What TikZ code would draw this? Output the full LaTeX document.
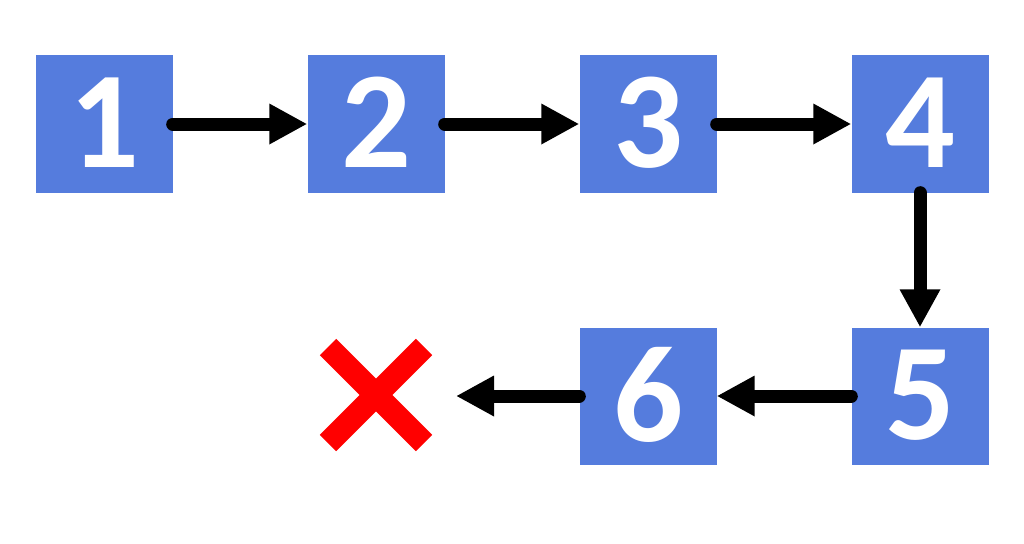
\documentclass[tikz,border=0pt]{standalone}
\usepackage{fontspec}
\setmainfont{Carlito}
\usetikzlibrary{arrows.meta,calc}
\definecolor{boxblue}{RGB}{85,124,221}
\definecolor{xred}{RGB}{255,0,0}
\begin{document}
\begin{tikzpicture}[x=1pt,y=-1pt,
  numbox/.style={fill=boxblue, draw=none, minimum width=137pt, minimum height=137pt, inner sep=0pt,
    text=white, font=\fontsize{138}{138}\selectfont\bfseries},
  conn/.style={line width=13pt, line cap=round, -{Triangle[length=38pt,width=38pt]}, black}]
\useasboundingbox (0,0) rectangle (1024,543);
\node[numbox] (n1) at (104,124) {\raisebox{3pt}{1}};
\node[numbox] (n2) at (376,124) {\raisebox{3pt}{2}};
\node[numbox] (n3) at (648,124) {\raisebox{3pt}{3}};
\node[numbox] (n4) at (920,124) {\raisebox{3pt}{4}};
\node[numbox] (n5) at (920,396) {\raisebox{3pt}{5}};
\node[numbox] (n6) at (648,396) {\raisebox{3pt}{6}};
\coordinate (xc) at (376,395);
\coordinate (xend) at (456,396);
\draw[conn] (n1.east) -- (n2.west);
\draw[conn] (n2.east) -- (n3.west);
\draw[conn] (n3.east) -- (n4.west);
\draw[conn] (n4.south) -- (n5.north);
\draw[conn] (n5.west) -- (n6.east);
\draw[conn] (n6.west) -- (xend);
\draw[xred, line width=23pt] ($(xc)+(-48,-48)$) -- ($(xc)+(48,48)$)
  ($(xc)+(48,-48)$) -- ($(xc)+(-48,48)$);
\end{tikzpicture}
\end{document}
